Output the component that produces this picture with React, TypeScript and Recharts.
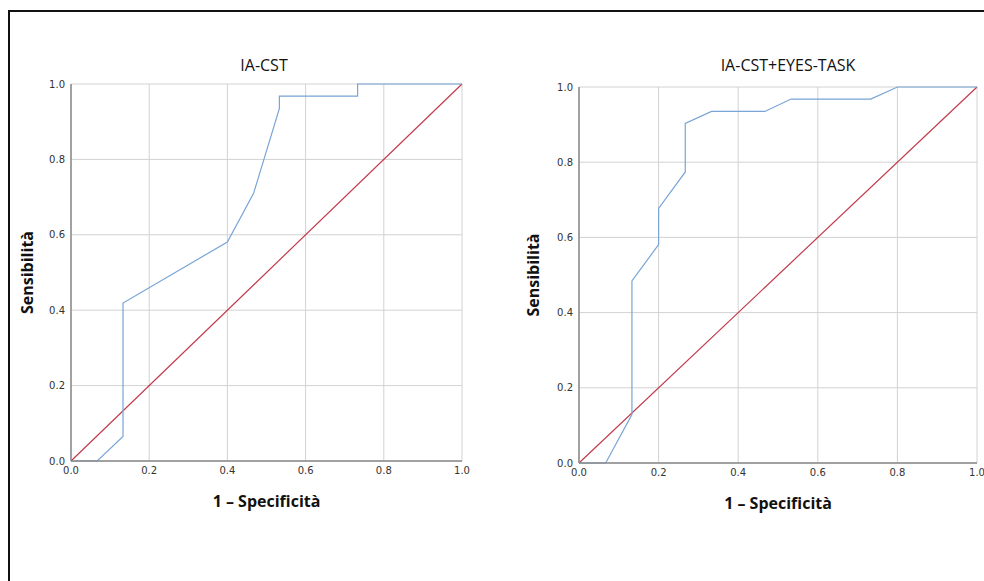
import { LineChart, Line, XAxis, YAxis, CartesianGrid } from 'recharts';

const ticks = [0, 0.2, 0.4, 0.6, 0.8, 1.0];
const diagonal = [0, 1];

// IA-CST
const cstFpr = [0, 0.067, 0.133, 0.133, 0.4, 0.467, 0.533, 0.533, 0.733, 0.733, 1.0];
const cstTpr = [0, 0, 0.065, 0.419, 0.581, 0.71, 0.935, 0.968, 0.968, 1.0, 1.0];

// IA-CST+EYES-TASK
const eyesFpr = [0, 0.067, 0.133, 0.133, 0.2, 0.2, 0.267, 0.267, 0.333, 0.467, 0.533, 0.733, 0.8, 1.0];
const eyesTpr = [0, 0, 0.129, 0.484, 0.581, 0.677, 0.774, 0.903, 0.935, 0.935, 0.968, 0.968, 1.0, 1.0];

const tickStyle = { fill: '#333', fontSize: 10, fontFamily: 'DejaVu Sans' };
const labelStyle = { fill: '#111', fontSize: 16, fontWeight: 700, fontFamily: 'Open Sans', textAnchor: 'middle' as const };

interface RocPanelProps {
  title: string;
  fpr: number[];
  tpr: number[];
  left: number;
  width: number;
  margin: { top: number; right: number; bottom: number; left: number };
  titleX: number;
  yLabelOffset: number;
}

function RocPanel({ title, fpr, tpr, left, width, margin, titleX, yLabelOffset }: RocPanelProps) {
  const curve = fpr.map((x, i) => ({ x, y: tpr[i] }));
  const ref = diagonal.map((v) => ({ x: v, y: v }));
  return (
    <>
      <div
        style={{
          position: 'absolute',
          left: titleX - 150,
          top: 54,
          width: 300,
          textAlign: 'center',
          fontFamily: 'Open Sans',
          fontSize: 16,
          color: '#111',
        }}
      >
        {title}
      </div>
      <div style={{ position: 'absolute', left, top: 0 }}>
        <LineChart width={width} height={540} margin={margin}>
          <CartesianGrid stroke="#d2d2d2" strokeWidth={1} horizontalValues={ticks} verticalValues={ticks} />
          <XAxis
            dataKey="x"
            type="number"
            domain={[0, 1]}
            ticks={ticks}
            tickFormatter={(v: number) => v.toFixed(1)}
            tick={tickStyle}
            tickLine={false}
            tickSize={4}
            height={50}
            stroke="#8a8a8a"
            strokeWidth={1.5}
            allowDuplicatedCategory={false}
            label={{ value: '1 – Specificità', position: 'insideBottom', offset: 4, style: labelStyle }}
          />
          <YAxis
            dataKey="y"
            type="number"
            domain={[0, 1]}
            ticks={ticks}
            tickFormatter={(v: number) => v.toFixed(1)}
            tick={tickStyle}
            tickLine={false}
            tickSize={4}
            width={50}
            stroke="#8a8a8a"
            strokeWidth={1.5}
            label={{ value: 'Sensibilità', angle: -90, position: 'insideLeft', offset: yLabelOffset, style: labelStyle }}
          />
          <Line data={ref} dataKey="y" type="linear" stroke="#c33a4c" strokeWidth={1.2} dot={false} isAnimationActive={false} />
          <Line data={curve} dataKey="y" type="linear" stroke="#78a4d6" strokeWidth={1.2} dot={false} isAnimationActive={false} />
        </LineChart>
      </div>
    </>
  );
}

export default function App() {
  return (
    <div style={{ position: 'absolute', left: 0, top: 0, width: 984, height: 581, background: '#fff', overflow: 'hidden' }}>
      <div
        style={{
          position: 'absolute',
          left: 8,
          top: 10,
          width: 1000,
          height: 600,
          borderLeft: '2px solid #111',
          borderTop: '2px solid #111',
        }}
      />
      <RocPanel
        title="IA-CST"
        fpr={cstFpr}
        tpr={cstTpr}
        left={0}
        width={490}
        margin={{ top: 84, right: 28, bottom: 29, left: 21 }}
        titleX={264}
        yLabelOffset={6}
      />
      <RocPanel
        title="IA-CST+EYES-TASK"
        fpr={eyesFpr}
        tpr={eyesTpr}
        left={490}
        width={494}
        margin={{ top: 87, right: 7, bottom: 27, left: 39 }}
        titleX={788}
        yLabelOffset={4}
      />
    </div>
  );
}
